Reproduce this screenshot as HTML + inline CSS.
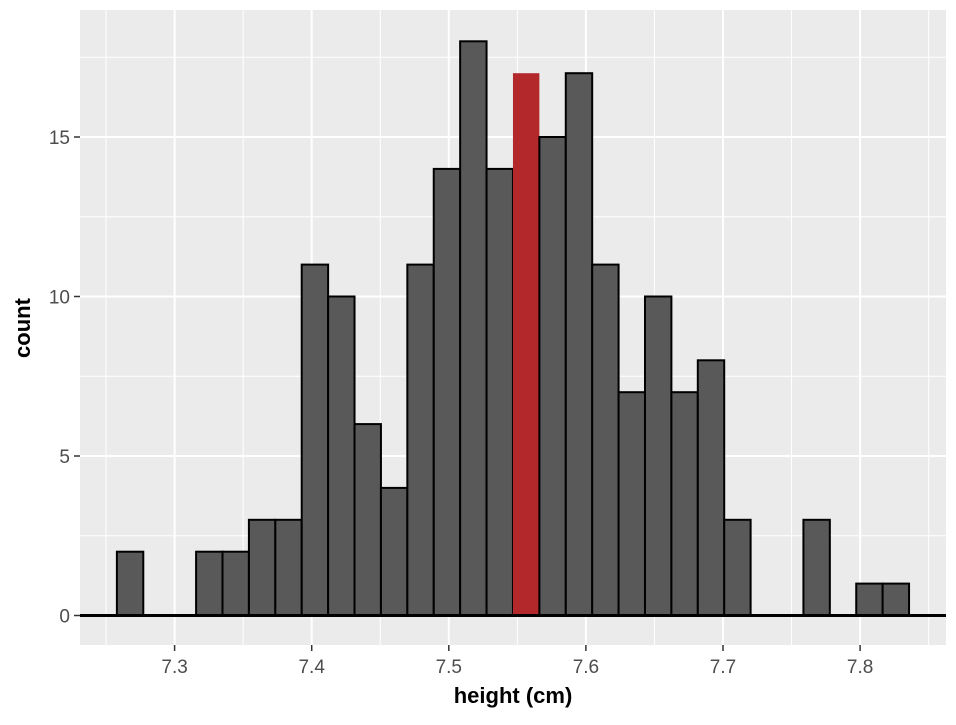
<!DOCTYPE html>
<html><head><meta charset="utf-8"><style>
body{margin:0;background:#fff;}
svg text{font-family:"Liberation Sans",Arial,sans-serif;}
</style></head><body>
<svg id="chart" width="956" height="720" xmlns="http://www.w3.org/2000/svg">
<rect x="80" y="10" width="866" height="635" fill="#ebebeb"/>
<g id="grid"></g>
<g id="bars"></g>
<line x1="80" x2="946" y1="615.5" y2="615.5" stroke="#000" stroke-width="3"/>
<g id="axes"></g>
<text x="513" y="703" text-anchor="middle" font-size="22" font-weight="bold">height (cm)</text>
<text transform="translate(30,328) rotate(-90)" text-anchor="middle" font-size="22" font-weight="bold">count</text>
</svg>
<script>
const counts=[2,0,0,2,2,3,3,11,10,6,4,11,14,18,14,17,15,17,11,7,10,7,8,3,0,0,3,0,1,1];
const binStart=7.2579;
const binWidth=0.01926;
const highlightIndex=15;
const xTicks=[7.3,7.4,7.5,7.6,7.7,7.8];
const yTicks=[0,5,10,15];
const NS="http://www.w3.org/2000/svg";
const X=v=>174.6+(v-7.3)*1371;
const Y=v=>615.5-v*31.9;
function mk(tag,attrs,parent){const e=document.createElementNS(NS,tag);for(const k in attrs)e.setAttribute(k,attrs[k]);parent.appendChild(e);return e;}
const grid=document.getElementById('grid'),bars=document.getElementById('bars'),axes=document.getElementById('axes');
// minor grid
for(let i=0;i<xTicks.length+1;i++){const v=xTicks[0]-0.05+i*0.1;const x=X(v);if(x>80&&x<946){const l=mk('line',{x1:x,x2:x,y1:10,y2:645,stroke:'#fff','stroke-width':1},grid);

}}
for(let i=0;i<yTicks.length;i++){const v=yTicks[i]+2.5;const y=Y(v);if(y>10){const l=mk('line',{x1:80,x2:946,y1:y,y2:y,stroke:'#fff','stroke-width':1},grid);

}}
xTicks.forEach(t=>{const x=X(t);
const l=mk('line',{x1:x,x2:x,y1:10,y2:645,stroke:'#fff','stroke-width':2},grid);


const tk=mk('line',{x1:x,x2:x,y1:645,y2:651,stroke:'#333','stroke-width':1.5},axes);


const tx=mk('text',{x:x,y:673,'text-anchor':'middle','font-size':19,fill:'#4d4d4d'},axes);tx.textContent=t.toFixed(1);

});
yTicks.forEach(t=>{const y=Y(t);
const l=mk('line',{x1:80,x2:946,y1:y,y2:y,stroke:'#fff','stroke-width':2},grid);


const tk=mk('line',{x1:74,x2:80,y1:y,y2:y,stroke:'#333','stroke-width':1.5},axes);


const tx=mk('text',{x:70,y:y+7,'text-anchor':'end','font-size':19,fill:'#4d4d4d'},axes);tx.textContent=t;

});
counts.forEach((c,i)=>{if(c<=0)return;const x0=X(binStart+i*binWidth),x1=X(binStart+(i+1)*binWidth);
const r=mk('rect',{x:x0,y:Y(c),width:x1-x0,height:Y(0)-Y(c),fill:i===highlightIndex?'#b2282b':'#595959',stroke:i===highlightIndex?'none':'#000','stroke-width':2},bars);

});
</script>
</body></html>
